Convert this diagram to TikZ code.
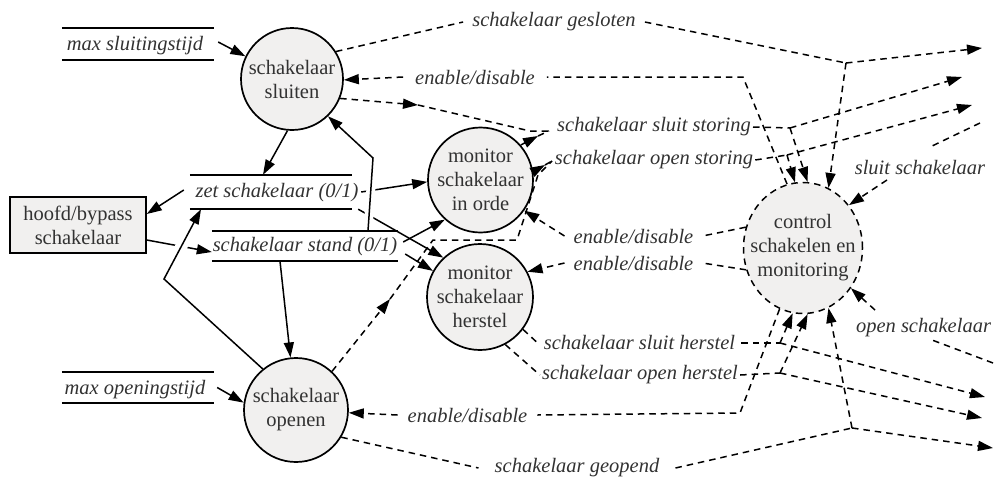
\documentclass[tikz,border=0pt]{standalone}
\usepackage{fontspec}
\setmainfont{Liberation Serif}
\usetikzlibrary{arrows.meta,calc,shapes.geometric}

\definecolor{procfill}{RGB}{241,240,239}
\definecolor{inkgray}{RGB}{50,50,50}

\begin{document}
\begin{tikzpicture}[x=1pt,y=-1pt,
  font=\fontsize{20.5}{24}\selectfont,
  every node/.style={text=inkgray},
  proc/.style={circle,draw,line width=1.7pt,fill=procfill,inner sep=0pt},
  ext/.style={rectangle,draw,line width=1.5pt,fill=procfill,align=center,
    minimum width=136pt,minimum height=56pt,inner sep=0pt},
  store/.style={rectangle,inner sep=0pt},
  storeline/.style={line width=1.9pt},
  flowlbl/.style={font=\fontsize{20.5}{24}\selectfont\itshape,inner ysep=1pt,inner xsep=#1},
  flowlbl/.default=10pt,
  arr/.style={-{Triangle[length=15pt,width=10pt]}},
  solidflow/.style={line width=1.5pt},
  ctlflow/.style={line width=1.5pt,dash pattern=on 6.5pt off 5pt},
  bridge/.style={draw=white,line width=#1},
]
\useasboundingbox (0,0) rectangle (994,477);

% processes
\node[proc,minimum size=102pt,label={[align=center]center:schakelaar\\sluiten}] (sl) at (292,79) {};
\node[proc,minimum size=104pt,label={[align=center]center:schakelaar\\openen}] (op) at (296,410) {};
\node[proc,minimum size=105pt,label={[align=center]center:monitor\\schakelaar\\in orde}] (io) at (480.5,180) {};
\node[proc,minimum size=106pt,label={[align=center]center:monitor\\schakelaar\\herstel}] (hs) at (480,297) {};
\node[ellipse,draw,ctlflow,fill=procfill,minimum width=119pt,minimum height=131pt,inner sep=0pt,
  label={[align=center]center:control\\schakelen en\\monitoring}] (ct) at (803,248) {};

% terminator
\node[ext] (hb) at (78,225) {hoofd/bypass\\schakelaar};

% data stores
\node[store,minimum width=152pt,minimum height=32pt,
  label={[flowlbl=0pt,xshift=-3pt,yshift=-2pt]center:max sluitingstijd}] (maxs) at (138,44) {};
\node[store,minimum width=152pt,minimum height=31pt,
  label={[flowlbl=0pt,xshift=-3pt,yshift=-2pt]center:max openingstijd}] (maxo) at (138,387.5) {};
\node[store,minimum width=162pt,minimum height=34pt,
  label={[flowlbl=0pt,xshift=6pt,yshift=-1pt]center:zet schakelaar (0/1)}] (zet) at (271,192) {};
\node[store,minimum width=186pt,minimum height=30pt,
  label={[flowlbl=0pt,yshift=-1pt]center:schakelaar stand (0/1)}] (stand) at (305,246) {};
\foreach \s in {maxs,maxo,zet,stand}
  \draw[storeline] (\s.north west) -- (\s.north east) (\s.south west) -- (\s.south east);

% flow labels
\node[flowlbl=9pt] (gs) at (554,22) {schakelaar gesloten};
\node[flowlbl=12pt] (en1) at (475,77) {enable/disable};
\node[flowlbl=2pt] (ss) at (654,127) {schakelaar sluit storing};
\node[flowlbl=2pt] (os) at (654,160) {schakelaar open storing};
\node[flowlbl=9pt] (en2) at (633.5,236) {enable/disable};
\node[flowlbl=9pt] (en3) at (633.5,263) {enable/disable};
\node[flowlbl=6pt] (ssh) at (639.5,343) {schakelaar sluit herstel};
\node[flowlbl=2pt] (soh) at (640,375) {schakelaar open herstel};
\node[flowlbl=10pt] (en4) at (467.5,415) {enable/disable};
\node[flowlbl=16pt] (go) at (577,468) {schakelaar geopend};
\node[flowlbl=2pt] (sc) at (920,168) {sluit schakelaar};
\node[flowlbl=2pt] (oc) at (923.5,328) {open schakelaar};

% bends, junctions and free ends
\coordinate (K1) at (164,279);
\coordinate (K2) at (373,158);
\coordinate (V0) at ([xshift=63pt]stand.north);
\coordinate (J1) at (846,63);
\coordinate (o1) at (982,48);
\coordinate (B1) at (743,77);
\coordinate (A3) at (418,105);
\coordinate (K3) at (530,131);
\coordinate (M1) at (549,131);
\coordinate (A4) at (538,136);
\coordinate (J2) at (790,128);
\coordinate (o2) at (962,77);
\coordinate (A6) at (545,165);
\coordinate (M2) at (552,161);
\coordinate (A7) at (390,299);
\coordinate (K7a) at (433,240);
\coordinate (K7b) at (517,240);
\coordinate (K7c) at (538,175);
\coordinate (J3) at (787,155);
\coordinate (o3) at (972,105);
\coordinate (J5) at (780,343);
\coordinate (o5) at (985,397);
\coordinate (J6) at (780,373);
\coordinate (o6) at (982,418);
\coordinate (B4) at (740,413);
\coordinate (J4) at (852,428);
\coordinate (o4) at (993,448);
\coordinate (i1) at (980,123);
\coordinate (i1b) at (930,147);
\coordinate (i1c) at (887,180);
\coordinate (i2) at (993,363);
\coordinate (i2b) at (932,340);
\coordinate (i2c) at (875,310);

% data flows (solid)
\draw[solidflow,arr] ([xshift=4pt,yshift=2pt]maxs.east) -- (sl.154);
\draw[solidflow,arr] ([xshift=3pt]maxo.east) -- (op.172);
\draw[solidflow,arr] (sl.265) -- ([xshift=-8pt]zet.north);
\draw[solidflow,arr] ([xshift=-6pt,yshift=2pt]zet.west) -- ([yshift=11pt]hb.east);
\draw[solidflow,arr] ([yshift=-15pt]hb.east) -- ([yshift=-6pt]stand.west);
\draw[bridge=12pt] ($(K1)!0.33!([xshift=-70pt]zet.south)$) -- ($(K1)!0.6!([xshift=-70pt]zet.south)$);
\draw[solidflow,arr] (op.129) -- (K1) -- ([xshift=-70pt]zet.south);
\draw[solidflow,arr] ([xshift=-25pt]stand.south) -- (op.96);
\draw[solidflow,arr] ([xshift=9pt]zet.east) -- (io.182);
\draw[solidflow,arr] ([xshift=6pt]zet.south east) -- (hs.133);
\draw[solidflow,arr] ([xshift=5pt,yshift=4pt]stand.east) -- (io.228);
\draw[solidflow,arr] ([xshift=7pt,yshift=-8pt]stand.east) -- (hs.151);
\draw[bridge=9pt] ($(V0)!0.12!(K2)$) -- ($(V0)!0.66!(K2)$);
\draw[solidflow,arr] (V0) -- (K2) -- (sl.314);

% control flows (dashed)
\draw[ctlflow] (sl.32) -- (gs.west);
\draw[ctlflow] (gs.east) -- (J1);
\draw[ctlflow,arr] (J1) -- (o1);
\draw[ctlflow,arr] (J1) -- (ct.67);

\draw[ctlflow] (ct.104) -- (B1) -- (en1.east);
\draw[ctlflow,arr] (en1.west) -- (sl.-1);

\draw[ctlflow,arr] (sl.-22) -- (A3);
\draw[ctlflow] (A3) -- (K3) -- (M1);
\draw[ctlflow,arr] (io.41) -- (A4);
\draw[ctlflow] (A4) -- (M1);
\draw[ctlflow] (ss.east) -- (J2);
\draw[ctlflow,arr] (J2) -- (o2);
\draw[ctlflow,arr] (J2) -- (ct.86);

\draw[ctlflow,arr] (io.9) -- (A6);
\draw[ctlflow] (A6) -- (M2);
\draw[ctlflow,arr] (op.47) -- (A7);
\draw[ctlflow] (A7) -- (K7a) -- (K7b) -- (K7c) -- (M2);
\draw[ctlflow] (os.east) -- (J3);
\draw[ctlflow,arr] (J3) -- (o3);
\draw[ctlflow,arr] (J3) -- (ct.97);

\draw[ctlflow] (ct.160) -- (en2.east);
\draw[ctlflow,arr] (en2.west) -- (io.-35);
\draw[ctlflow] (ct.201) -- (en3.east);
\draw[ctlflow,arr] (en3.west) -- (hs.28);

\draw[ctlflow] (hs.-37) -- (ssh.west);
\draw[ctlflow] (ssh.east) -- (J5);
\draw[ctlflow,arr] (J5) -- (o5);
\draw[ctlflow,arr] (J5) -- (ct.261);

\draw[ctlflow] (hs.-62) -- (soh.west);
\draw[ctlflow] (soh.east) -- (J6);
\draw[ctlflow,arr] (J6) -- (o6);
\draw[ctlflow,arr] (J6) -- (ct.274);

\draw[ctlflow] (ct.249) -- (B4) -- (en4.east);
\draw[ctlflow,arr] (en4.west) -- (op.-3);

\draw[ctlflow] (op.-31) -- (go.west);
\draw[ctlflow] (go.east) -- (J4);
\draw[ctlflow,arr] (J4) -- (o4);
\draw[ctlflow,arr] (J4) -- (ct.-67);

\draw[ctlflow] (i1) -- (i1b);
\draw[ctlflow,arr] (i1c) -- (ct.43);
\draw[ctlflow] (i2) -- (i2b);
\draw[ctlflow,arr] (i2c) -- (ct.-40);
\end{tikzpicture}
\end{document}
